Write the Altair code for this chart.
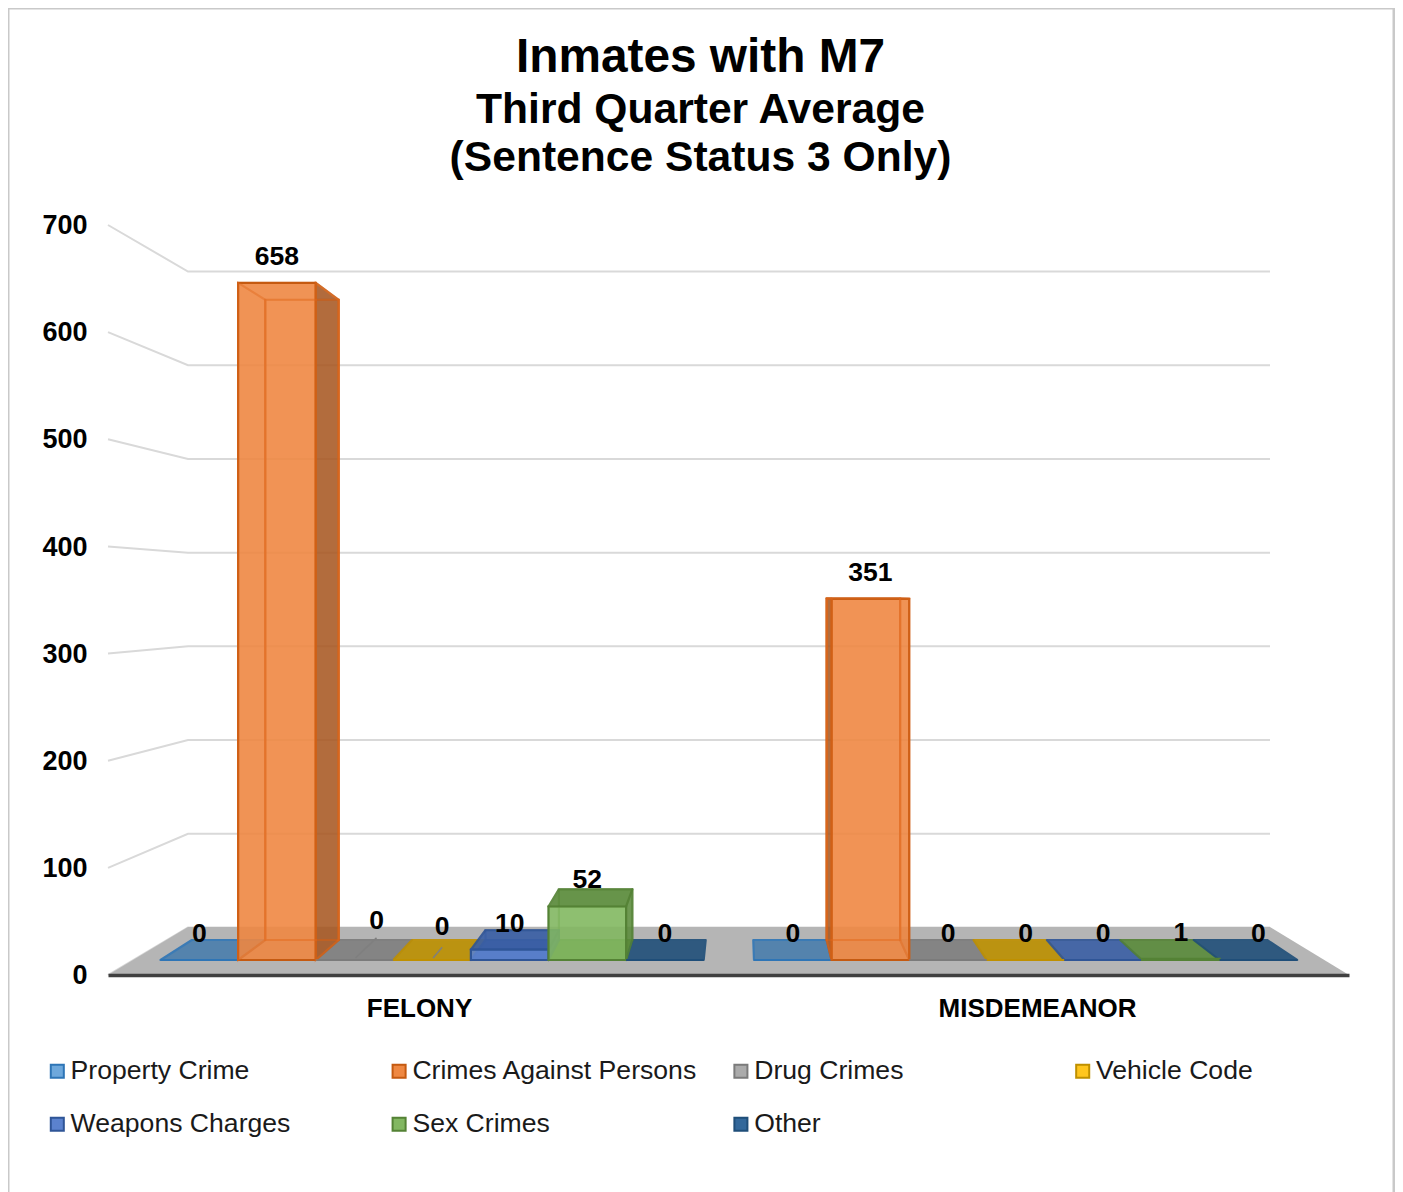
import altair as alt
import pandas as pd

categories = ["FELONY", "MISDEMEANOR"]
series = ["Property Crime", "Crimes Against Persons", "Drug Crimes", "Vehicle Code",
          "Weapons Charges", "Sex Crimes", "Other"]
felony = [0, 658, 0, 0, 10, 52, 0]
misdemeanor = [0, 351, 0, 0, 0, 1, 0]
fills = ["#6EA8DC", "#EF8842", "#ABABAB", "#FFC61E", "#5B82CE", "#82B761", "#33689B"]
edges = ["#2E75B6", "#C55A11", "#7B7B7B", "#BF9000", "#2F5597", "#548235", "#1F4E79"]
shades = ["#4A7EAD", "#A65722", "#7F7F7F", "#BC9000", "#3A5FA5", "#5A8A3A", "#21507A"]
axis_ticks = [0, 100, 200, 300, 400, 500, 600, 700]
FONT = "Liberation Sans"

# projection of the 3-D box onto the page
def wy(px): return (975 - px) * 700 / 750
def ftop(v): return 960 - 1.029 * v
def btop(v): return 940 - 0.973 * v
def bx(x): return 0.946 * x + 40

starts = [160.5, 754.0]
slot = 77.6
rows = {k: [] for k in ["plate", "back", "left", "right", "top", "front", "label", "leader"]}
nudges = {(0, 2): (22, -13), (0, 3): (10, -7)}
for c, vals in enumerate([felony, misdemeanor]):
    for i, v in enumerate(vals):
        a = starts[c] + slot * i
        b = a + slot
        ba, bb = bx(a), bx(b)
        ident = f"{c}-{i}"
        s = dict(series=series[i], fill=fills[i], edge=edges[i], shade=shades[i], id=ident, big=v >= 100)
        po = 0.15 if v >= 100 else 0.9
        rows["plate"] += [dict(s, x=a, x2=b, y=wy(960), o=po), dict(s, x=ba, x2=bb, y=wy(940), o=po)]
        rows["front"].append(dict(s, x=a, x2=b, y=wy(ftop(v)), y2=wy(960)))
        if v >= 5:
            lo = 0.85 if ba < a else 0.15
            ro = 0.85 if bb > b else 0.15
            rows["back"].append(dict(s, x=ba, x2=bb, y=wy(btop(v)), y2=wy(940)))
            rows["left"] += [dict(s, x=a, y=wy(ftop(v)), y2=wy(960), o=lo), dict(s, x=ba, y=wy(btop(v)), y2=wy(940), o=lo)]
            rows["right"] += [dict(s, x=b, y=wy(ftop(v)), y2=wy(960), o=ro), dict(s, x=bb, y=wy(btop(v)), y2=wy(940), o=ro)]
            o = 0.9 if btop(v) < ftop(v) else 0.15
            rows["top"] += [dict(s, x=a, x2=b, y=wy(ftop(v)), o=o), dict(s, x=ba, x2=bb, y=wy(btop(v)), o=o)]
        dx, dy = nudges.get((c, i), (0, 0))
        cx = (a + b) / 2
        rows["label"].append(dict(x=cx + dx, y=wy(ftop(v) - 26 + dy), t=str(v)))
        if dx:
            rows["leader"] += [dict(id=ident, x=cx + 1, y=wy(958)), dict(id=ident, x=cx + dx, y=wy(958 + dy * 1.55))]
dfs = {k: pd.DataFrame(r) for k, r in rows.items()}

cat_centers = [419, 1037]
grid_rows = []
for t in axis_ticks:
    yb = 927.5 - t * 0.9371
    grid_rows += [dict(t=t, o=0, x=108, y=t), dict(t=t, o=1, x=188, y=wy(yb)), dict(t=t, o=2, x=1270, y=wy(yb))]
grid_df = pd.DataFrame(grid_rows)
floor_df = pd.DataFrame([dict(x=108, x2=1349, y=wy(975)), dict(x=188, x2=1270, y=wy(927))])
frame_df = pd.DataFrame([
    dict(x=8, x2=8, y=wy(8), y2=wy(1200)),
    dict(x=1394, x2=1394, y=wy(8), y2=wy(1200)),
    dict(x=8, x2=1394, y=wy(8), y2=wy(8)),
])

xs = alt.Scale(domain=[108, 1349], nice=False, zero=False)
ys = alt.Scale(domain=[0, 700], nice=False, zero=False)
label_expr = "datum.value < 700 ? '%s' : '%s'" % tuple(categories)
xaxis = alt.Axis(values=cat_centers, labelExpr=label_expr, title=None, grid=False, ticks=False,
                 domainColor="#404040", domainWidth=3.5, labelFont=FONT, labelFontSize=26,
                 labelFontWeight="bold", labelColor="#000000", labelPadding=20, labelFlush=False,
                 labelOverlap=False, labelAngle=0, labelLimit=500, zindex=1)
yaxis = alt.Axis(values=axis_ticks, title=None, grid=False, ticks=False, domain=False, labelFont=FONT,
                 labelFontSize=27, labelFontWeight="bold", labelColor="#000000", labelPadding=21,
                 labelFlush=False, labelOverlap=False, labelOffset=0.7)
X = alt.X("x:Q", scale=xs, axis=xaxis)
Y = alt.Y("y:Q", scale=ys, axis=yaxis)
raw = alt.Fill("fill:N", scale=None)
rawshade = alt.Fill("shade:N", scale=None)
rawedge = alt.Stroke("edge:N", scale=None)
op = alt.Opacity("o:Q", scale=None)
det = alt.Detail("id:N")
SW = 2.2
JOIN = "round"

frame = alt.Chart(frame_df).mark_rule(color="#c9c9c9", strokeWidth=3).encode(X, x2="x2:Q", y=Y, y2="y2:Q")
grid = alt.Chart(grid_df).mark_line(color="#d9d9d9", strokeWidth=2).encode(X, Y, detail="t:N", order="o:Q")
floor = alt.Chart(floor_df).mark_area(orient="horizontal", color="#b5b5b5").encode(X, x2="x2:Q", y=Y)
plate = alt.Chart(dfs["plate"]).mark_area(orient="horizontal", strokeWidth=SW, strokeJoin=JOIN).encode(
    X, x2="x2:Q", y=Y, fill=rawshade, stroke=rawedge, detail=det, opacity=op)
back = alt.Chart(dfs["back"]).mark_rect(fillOpacity=0.2, strokeOpacity=0.6, strokeWidth=SW).encode(
    X, x2="x2:Q", y=Y, y2="y2:Q", fill=raw, stroke=rawedge)
left = alt.Chart(dfs["left"]).mark_area(strokeWidth=SW, strokeJoin=JOIN).encode(
    X, y=Y, y2="y2:Q", fill=rawshade, stroke=rawedge, detail=det, opacity=op)
right = alt.Chart(dfs["right"]).mark_area(strokeWidth=SW, strokeJoin=JOIN).encode(
    X, y=Y, y2="y2:Q", fill=rawshade, stroke=rawedge, detail=det, opacity=op)
top = alt.Chart(dfs["top"]).mark_area(orient="horizontal", strokeWidth=SW, strokeJoin=JOIN).encode(
    X, x2="x2:Q", y=Y, fill=rawshade, stroke=rawedge, detail=det, opacity=op)
legend = alt.Legend(title=None, orient="none", legendX=-64, legendY=833, columns=4, gridAlign="all",
                    direction="horizontal", columnPadding=29.8, rowPadding=26, symbolType="square",
                    symbolSize=170, symbolStrokeWidth=2, labelFont=FONT, labelFontSize=26.6,
                    labelColor="#1a1a1a", labelOffset=0, labelLimit=400)
front = alt.Chart(dfs["front"]).mark_rect(fillOpacity=0.88, strokeWidth=SW).encode(
    X, x2="x2:Q", y=Y, y2="y2:Q",
    fill=alt.Fill("series:N", scale=alt.Scale(domain=series, range=fills), sort=series, legend=legend),
    stroke=alt.Stroke("series:N", scale=alt.Scale(domain=series, range=edges), sort=series, legend=legend))
# inner edges of the tall translucent boxes, seen through the front face
inner_back = alt.Chart(dfs["back"][dfs["back"]["big"]]).mark_rect(
    fillOpacity=0, strokeOpacity=0.4, strokeWidth=SW, stroke="#E0691E").encode(X, x2="x2:Q", y=Y, y2="y2:Q")
inner_left = alt.Chart(dfs["left"][dfs["left"]["big"]]).mark_area(
    fillOpacity=0, strokeOpacity=0.4, strokeWidth=SW, stroke="#E0691E", fill="#E0691E").encode(X, y=Y, y2="y2:Q", detail=det)
inner_right = alt.Chart(dfs["right"][dfs["right"]["big"]]).mark_area(
    fillOpacity=0, strokeOpacity=0.4, strokeWidth=SW, stroke="#E0691E", fill="#E0691E").encode(X, y=Y, y2="y2:Q", detail=det)
leader = alt.Chart(dfs["leader"]).mark_line(color="#7f7f7f", strokeWidth=1.5).encode(X, Y, detail="id:N")
labels = alt.Chart(dfs["label"]).mark_text(font=FONT, fontSize=26.5, fontWeight="bold", color="#000000",
                                           baseline="middle").encode(X, Y, text="t:N")

title = alt.TitleParams(
    text="Inmates with M7",
    subtitle=["Third Quarter Average", "(Sentence Status 3 Only)"],
    font=FONT, fontSize=47.8, fontWeight="bold", color="#000000",
    subtitleFont=FONT, subtitleFontSize=42.6, subtitleFontWeight="bold", subtitleColor="#000000",
    subtitleLineHeight=48, subtitlePadding=7,
    anchor="middle", frame="group", dx=-28, offset=-173)

chart = alt.layer(frame, grid, floor, plate, back, left, right, top, front,
                  inner_back, inner_left, inner_right, leader, labels).properties(
    width=1241, height=750, title=title,
    autosize=alt.AutoSizeParams(type="none"),
    padding={"left": 100, "top": 217, "right": 46, "bottom": 217},
).configure_view(stroke=None)
chart.save("out.html", embed_options={"renderer": "svg", "actions": False})
